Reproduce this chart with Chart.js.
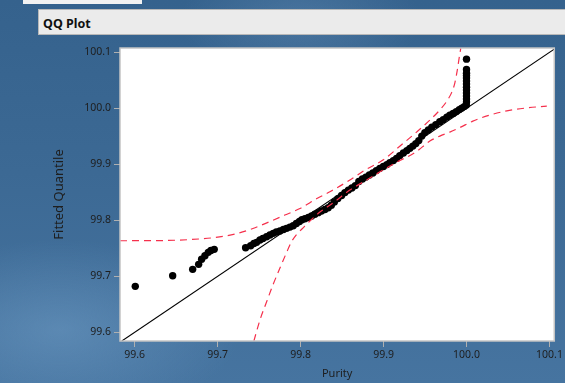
<!DOCTYPE html>
<html>
<head>
<meta charset="utf-8">
<script src="https://cdn.jsdelivr.net/npm/chart.js@4"></script>
<style>
  html, body { margin:0; padding:0; width:565px; height:383px; overflow:hidden; }
  body {
    background:
      radial-gradient(ellipse 180px 90px at 60px 330px, rgba(120,165,205,0.45), rgba(120,165,205,0) 100%),
      radial-gradient(ellipse 120px 60px at 300px 20px, rgba(110,150,190,0.35), rgba(110,150,190,0) 100%),
      linear-gradient(180deg, #35628d 0%, #3c6994 45%, #4674a0 100%);
    font-family: "Noto Sans", "Open Sans", sans-serif;
  }
  #topbox { position:absolute; left:23px; top:0; width:119px; height:4px; background:#f2f2f2; }
  #header { position:absolute; left:38px; top:9px; width:540px; height:26px; background:#ebebeb;
            border:1px solid #b8b8b8; box-sizing:border-box; }
  #header span { position:absolute; left:4px; top:5px; font-weight:bold; font-size:12.5px; color:#111; }
  #c { position:absolute; left:0; top:0; }
</style>
</head>
<body>
<div id="topbox"></div>
<div id="header"><span>QQ Plot</span></div>
<canvas id="c" width="565" height="383"></canvas>
<script>
// ---- data ----
const xTicks = [99.6, 99.7, 99.8, 99.9, 100.0, 100.1];
const yTicks = [99.6, 99.7, 99.8, 99.9, 100.0, 100.1];

const purity = [
  99.6007, 99.6458, 99.6699, 99.6771, 99.6807, 99.6847, 99.6887, 99.6919, 99.6959,
  99.7337, 99.7398, 99.7437, 99.7470, 99.7510, 99.7546, 99.7590, 99.7630, 99.7670, 99.7708,
  99.7751, 99.7793, 99.7831, 99.7871, 99.7911, 99.7949, 99.7986, 99.8016, 99.8052, 99.8094,
  99.8133, 99.8172, 99.8212, 99.8251, 99.8293, 99.8333, 99.8371, 99.8407, 99.8449, 99.8494,
  99.8534, 99.8576, 99.8618, 99.8660, 99.8702, 99.8745, 99.8787, 99.8829, 99.8871, 99.8913,
  99.8955, 99.8998, 99.9040, 99.9076, 99.9118, 99.9157, 99.9196, 99.9239, 99.9281, 99.9317,
  99.9353, 99.9389, 99.9425, 99.9461, 99.9498, 99.9540, 99.9582, 99.9630, 99.9678, 99.9720,
  99.9763, 99.9799, 99.9839, 99.9877, 99.9913, 99.9943, 99.9973, 99.9998,
  100.0000, 100.0000, 100.0000, 100.0000, 100.0000, 100.0000, 100.0000, 100.0000, 100.0000,
  100.0000, 100.0000, 100.0000, 100.0000
];
const fittedQuantile = [
  99.6821, 99.7011, 99.7125, 99.7214, 99.7304, 99.7368, 99.7429, 99.7461, 99.7482,
  99.7511, 99.7546, 99.7586, 99.7607, 99.7648, 99.7675, 99.7707, 99.7738, 99.7768, 99.7791,
  99.7809, 99.7836, 99.7857, 99.7880, 99.7904, 99.7943, 99.7979, 99.8010, 99.8030, 99.8052,
  99.8078, 99.8108, 99.8138, 99.8168, 99.8195, 99.8225, 99.8270, 99.8330, 99.8389, 99.8443,
  99.8496, 99.8541, 99.8577, 99.8621, 99.8693, 99.8738, 99.8773, 99.8809, 99.8845, 99.8889,
  99.8929, 99.8961, 99.8996, 99.9032, 99.9068, 99.9107, 99.9157, 99.9202, 99.9246, 99.9286,
  99.9327, 99.9371, 99.9425, 99.9505, 99.9568, 99.9613, 99.9666, 99.9711, 99.9761, 99.9800,
  99.9845, 99.9880, 99.9911, 99.9943, 99.9979, 100.0005, 100.0032, 100.0059,
  100.0113, 100.0166, 100.0220, 100.0273, 100.0327, 100.0380, 100.0434, 100.0488, 100.0541,
  100.0586, 100.0630, 100.0696, 100.0880
];

const upperBandX = [99.5823, 99.6305, 99.6666, 99.6967, 99.7208, 99.7425, 99.7630, 99.7811,
  99.7992, 99.8196, 99.8353, 99.8594, 99.8775, 99.8992, 99.9233, 99.9413, 99.9558, 99.9678,
  99.9763, 99.9823, 99.9859, 99.9889, 99.9913, 99.9931];
const upperBandY = [99.7636, 99.7639, 99.7657, 99.7693, 99.7755, 99.7854, 99.7979, 99.8095,
  99.8211, 99.8389, 99.8511, 99.8720, 99.8898, 99.9077, 99.9371, 99.9595, 99.9791, 99.9970,
  100.0130, 100.0291, 100.0452, 100.0684, 100.0916, 100.1077];

const lowerBandX = [99.7437, 99.7510, 99.7594, 99.7666, 99.7751, 99.7823, 99.7889, 99.7955,
  99.8016, 99.8112, 99.8233, 99.8389, 99.8594, 99.8835, 99.8992, 99.9160, 99.9389, 99.9558,
  99.9678, 99.9799, 99.9919, 100.0076, 100.0281, 100.0486, 100.0727, 100.0968];
const lowerBandY = [99.5845, 99.6220, 99.6559, 99.6845, 99.7148, 99.7398, 99.7613, 99.7755,
  99.7845, 99.7988, 99.8148, 99.8309, 99.8541, 99.8755, 99.8898, 99.9041, 99.9220, 99.9416,
  99.9505, 99.9577, 99.9657, 99.9773, 99.9880, 99.9957, 100.0009, 100.0041];

const xRange = [99.5823, 100.1058];
const yRange = [99.5845, 100.1079];

// ---- build datasets ----
const pts = purity.map((v, i) => ({ x: v, y: fittedQuantile[i] }));
const up = upperBandX.map((v, i) => ({ x: v, y: upperBandY[i] }));
const lo = lowerBandX.map((v, i) => ({ x: v, y: lowerBandY[i] }));
const diag = [{ x: yRange[0], y: yRange[0] }, { x: yRange[1], y: yRange[1] }];

const tickColor = '#b0b0b0';
const textColor = '#1e1e1e';
const fam = '"Noto Sans", "Open Sans", sans-serif';
const font = { family: fam, size: 10.5 };

const plotFrame = {
  id: 'plotFrame',
  beforeDatasetsDraw(chart) {
    const { ctx, chartArea: a } = chart;
    ctx.save();
    ctx.fillStyle = '#ffffff';
    ctx.fillRect(a.left, a.top, a.right - a.left, a.bottom - a.top);
    ctx.restore();
  },
  afterDraw(chart) {
    const { ctx, chartArea: a } = chart;
    ctx.save();
    ctx.strokeStyle = '#c4c4c4';
    ctx.lineWidth = 1.5;
    ctx.strokeRect(a.left, a.top, a.right - a.left, a.bottom - a.top);
    ctx.restore();
  }
};

new Chart(document.getElementById('c'), {
  type: 'scatter',
  data: {
    datasets: [
      { data: up, showLine: true, borderColor: '#f5304c', borderWidth: 1.2, borderDash: [7, 5],
        pointRadius: 0, cubicInterpolationMode: 'monotone', fill: false },
      { data: lo, showLine: true, borderColor: '#f5304c', borderWidth: 1.2, borderDash: [7, 5],
        pointRadius: 0, cubicInterpolationMode: 'monotone', fill: false },
      { data: diag, showLine: true, borderColor: '#000000', borderWidth: 1.1, pointRadius: 0 },
      { data: pts, showLine: false, pointRadius: 3.7, pointBackgroundColor: '#000000',
        pointBorderWidth: 0, pointBorderColor: '#000000' }
    ]
  },
  options: {
    responsive: false,
    animation: false,
    devicePixelRatio: 1,
    layout: { padding: { left: 0, top: 48, right: 10.5, bottom: 0 } },
    plugins: { legend: { display: false }, tooltip: { enabled: false } },
    scales: {
      x: {
        type: 'linear', min: xRange[0], max: xRange[1],
        afterBuildTicks: s => { s.ticks = xTicks.map(v => ({ value: v })); },
        afterFit: s => { s.height = 42; },
        grid: { drawOnChartArea: false, drawTicks: true, tickLength: 6, color: tickColor, lineWidth: 1 },
        border: { display: false },
        ticks: { color: textColor, font, padding: 2, maxRotation: 0,
                 callback: v => Number(v).toFixed(1) },
        title: { display: true, text: 'Purity', color: textColor,
                 font: { family: fam, size: 11 }, padding: { top: 0, bottom: 3 } }
      },
      y: {
        type: 'linear', min: yRange[0], max: yRange[1],
        afterBuildTicks: s => { s.ticks = yTicks.map(v => ({ value: v })); },
        afterFit: s => { s.width = 120; },
        grid: { drawOnChartArea: false, drawTicks: true, tickLength: 6, color: tickColor, lineWidth: 1 },
        border: { display: false },
        ticks: { color: textColor, font, padding: 3,
                 callback: v => Number(v).toFixed(1) },
        title: { display: true, text: 'Fitted Quantile', color: textColor,
                 font: { family: fam, size: 13 }, padding: { top: 51, bottom: 0 } }
      }
    }
  },
  plugins: [plotFrame]
});
</script>
</body>
</html>
